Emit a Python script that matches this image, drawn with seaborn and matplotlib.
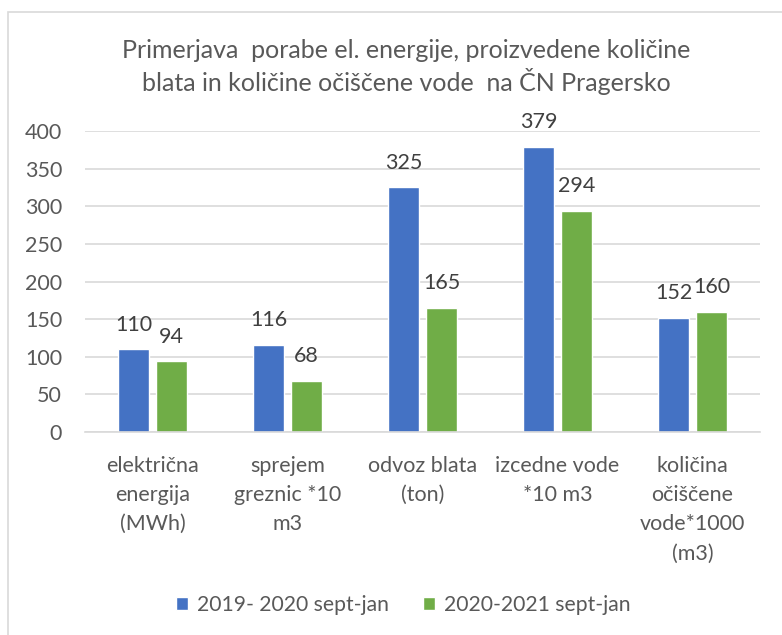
import numpy as np
import pandas as pd
import seaborn as sns
from matplotlib import pyplot as plt
from matplotlib.patches import Rectangle

# data
categories = ["električna\nenergija\n(MWh)",
              "sprejem\ngreznic *10\nm3",
              "odvoz blata\n(ton)",
              "izcedne vode\n*10 m3",
              "količina\nočiščene\nvode*1000\n(m3)"]
series = ["2019- 2020 sept-jan", "2020-2021 sept-jan"]
vals_2019 = [110, 116, 325, 379, 152]
vals_2020 = [94, 68, 165, 294, 160]
yticks = [0, 50, 100, 150, 200, 250, 300, 350, 400]

df = pd.DataFrame({
    "kategorija": categories * 2,
    "obdobje": [series[0]] * 5 + [series[1]] * 5,
    "vrednost": vals_2019 + vals_2020,
})

sns.set_theme(style="white")
plt.rcParams['font.family'] = ['Lato', 'DejaVu Sans']
txt = "#595959"
fs = 15.5

fig = plt.figure(figsize=(7.82, 6.35), dpi=100)
# chart frame (cropped on right and bottom like the reference)
fig.patches.append(Rectangle((8 / 782, -0.05), 1.1, (635 - 12) / 635 + 0.05,
                             transform=fig.transFigure, fill=False,
                             edgecolor="#d9d9d9", linewidth=1.2))

ax = fig.add_axes([85 / 782, 203 / 635, 675 / 782, 301 / 635])
sns.barplot(data=df, x="kategorija", y="vrednost", hue="obdobje",
            palette=["#4472C4", "#70AD47"], width=0.563, gap=0.21,
            ax=ax, legend=True, saturation=1)

for c in ax.containers:
    ax.bar_label(c, padding=10.5, fontsize=fs, color="#404040")

ax.set_ylim(0, 400)
ax.set_xlim(-0.5, 4.5)
ax.set_yticks(yticks)
ax.set_xticks(range(len(categories)))
ax.set_xticklabels(categories, linespacing=1.58, va="top")
ax.yaxis.grid(True, color="#d9d9d9", linewidth=1.2)
ax.set_axisbelow(True)
for s in ["top", "right", "left"]:
    ax.spines[s].set_visible(False)
ax.spines["bottom"].set_color("#d9d9d9")
ax.spines["bottom"].set_linewidth(1.2)
ax.set_xlabel("")
ax.set_ylabel("")
ax.tick_params(axis="y", length=0, pad=16.5, labelsize=fs, labelcolor=txt)
ax.tick_params(axis="x", length=0, pad=17, labelsize=fs, labelcolor=txt)

fig.text(406 / 782, 1 - 67 / 635,
         "Primerjava  porabe el. energije, proizvedene količine\nblata in količine očiščene vode  na ČN Pragersko",
         ha="center", va="center", fontsize=18, color=txt, linespacing=1.28)

ax.legend(loc="center", bbox_to_anchor=(403 / 782, 1 - 605 / 635),
          bbox_transform=fig.transFigure, ncol=2, frameon=False,
          fontsize=15.2, labelcolor=txt, handlelength=0.6, handleheight=0.6,
          handletextpad=0.4, columnspacing=1.6)

fig.savefig("out.png", dpi=100)
